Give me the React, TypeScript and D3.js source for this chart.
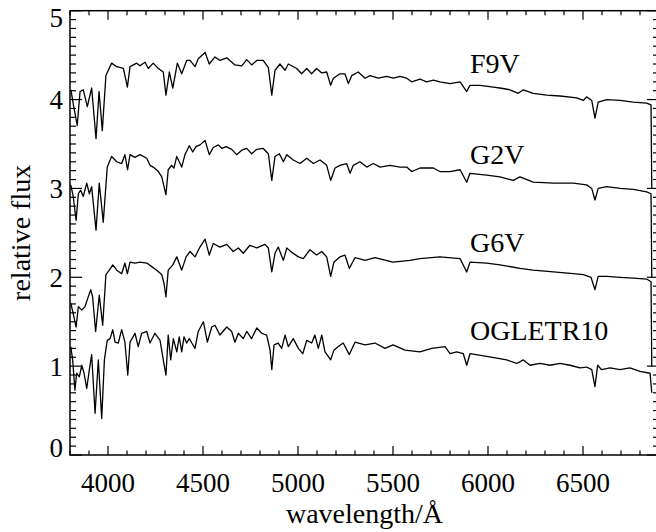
import * as d3 from "d3";

// spectra: wavelength (Å) and relative flux
const f9vWave = [3805, 3818, 3838, 3853, 3870, 3891, 3914, 3937, 3953, 3970, 3989, 4019, 4046, 4081, 4102, 4116, 4151, 4168, 4195, 4212, 4238, 4265, 4291, 4305, 4323, 4341, 4365, 4388, 4414, 4432, 4458, 4475, 4511, 4533, 4563, 4589, 4625, 4668, 4704, 4730, 4756, 4783, 4817, 4844, 4862, 4879, 4905, 4932, 4949, 4993, 5019, 5046, 5072, 5098, 5125, 5151, 5172, 5186, 5221, 5247, 5265, 5283, 5317, 5353, 5379, 5423, 5467, 5502, 5537, 5572, 5598, 5642, 5677, 5712, 5747, 5800, 5853, 5888, 5905, 5958, 6028, 6063, 6116, 6159, 6186, 6238, 6309, 6379, 6467, 6502, 6519, 6546, 6563, 6580, 6625, 6695, 6765, 6835, 6858, 6862];
const f9vFlux = [4.11, 3.94, 3.71, 4.09, 4.11, 3.92, 4.13, 3.56, 4.09, 3.65, 4.27, 4.41, 4.37, 4.35, 4.14, 4.37, 4.41, 4.38, 4.42, 4.35, 4.41, 4.35, 4.31, 4.05, 4.31, 4.13, 4.41, 4.29, 4.44, 4.44, 4.37, 4.46, 4.53, 4.40, 4.48, 4.44, 4.47, 4.39, 4.38, 4.45, 4.39, 4.44, 4.44, 4.36, 4.05, 4.33, 4.40, 4.33, 4.40, 4.35, 4.29, 4.35, 4.29, 4.35, 4.30, 4.31, 4.16, 4.24, 4.29, 4.29, 4.18, 4.27, 4.31, 4.24, 4.27, 4.24, 4.26, 4.24, 4.26, 4.24, 4.20, 4.23, 4.20, 4.22, 4.20, 4.18, 4.20, 4.09, 4.16, 4.16, 4.14, 4.13, 4.11, 4.07, 4.11, 4.07, 4.05, 4.04, 4.02, 3.99, 4.03, 3.99, 3.79, 3.97, 4.00, 3.99, 3.97, 3.96, 3.94, 3.0];

const g2vWave = [3804, 3817, 3832, 3844, 3856, 3870, 3888, 3902, 3914, 3937, 3954, 3975, 3996, 4019, 4046, 4072, 4089, 4103, 4116, 4142, 4168, 4204, 4221, 4238, 4265, 4283, 4295, 4305, 4317, 4335, 4347, 4362, 4375, 4388, 4405, 4428, 4446, 4463, 4484, 4511, 4533, 4554, 4581, 4600, 4621, 4651, 4677, 4704, 4730, 4756, 4783, 4817, 4844, 4862, 4879, 4902, 4923, 4941, 4975, 5011, 5046, 5081, 5116, 5151, 5172, 5195, 5221, 5256, 5274, 5291, 5326, 5362, 5396, 5432, 5484, 5537, 5572, 5598, 5642, 5712, 5747, 5800, 5853, 5888, 5905, 5993, 6063, 6133, 6168, 6238, 6344, 6449, 6519, 6546, 6563, 6580, 6625, 6695, 6765, 6835, 6858, 6862];
const g2vFlux = [3.04, 2.91, 2.64, 2.94, 2.98, 2.91, 3.06, 2.94, 3.02, 2.53, 3.06, 2.62, 3.24, 3.36, 3.30, 3.28, 3.38, 3.21, 3.38, 3.35, 3.38, 3.34, 3.26, 3.24, 3.19, 3.13, 3.02, 2.93, 3.21, 3.26, 3.23, 3.36, 3.30, 3.24, 3.38, 3.48, 3.41, 3.47, 3.49, 3.54, 3.38, 3.46, 3.49, 3.45, 3.47, 3.44, 3.38, 3.43, 3.45, 3.39, 3.44, 3.45, 3.39, 3.09, 3.36, 3.39, 3.30, 3.38, 3.32, 3.28, 3.34, 3.28, 3.32, 3.26, 3.09, 3.23, 3.26, 3.28, 3.17, 3.26, 3.30, 3.24, 3.28, 3.24, 3.26, 3.24, 3.24, 3.19, 3.23, 3.23, 3.19, 3.19, 3.21, 3.07, 3.17, 3.15, 3.13, 3.09, 3.13, 3.07, 3.06, 3.06, 3.04, 3.00, 2.87, 3.00, 3.02, 3.00, 2.99, 2.96, 2.94, 2.0];

const g6vWave = [3804, 3817, 3832, 3844, 3862, 3879, 3896, 3909, 3919, 3935, 3954, 3972, 3989, 4007, 4025, 4046, 4072, 4089, 4102, 4116, 4142, 4168, 4204, 4230, 4256, 4283, 4295, 4305, 4317, 4341, 4362, 4388, 4411, 4432, 4458, 4484, 4511, 4533, 4554, 4589, 4625, 4659, 4686, 4712, 4747, 4783, 4826, 4844, 4862, 4879, 4896, 4923, 4941, 4968, 5002, 5028, 5063, 5098, 5125, 5151, 5172, 5189, 5221, 5247, 5270, 5300, 5353, 5405, 5500, 5589, 5642, 5747, 5853, 5888, 5905, 5993, 6063, 6168, 6238, 6344, 6449, 6502, 6542, 6563, 6580, 6625, 6695, 6765, 6835, 6858, 6862];
const g6vFlux = [1.71, 1.59, 1.44, 1.67, 1.63, 1.67, 1.78, 1.86, 1.78, 1.39, 1.80, 1.46, 2.03, 2.08, 2.14, 2.08, 2.04, 2.16, 2.04, 2.17, 2.16, 2.17, 2.16, 2.12, 2.08, 2.03, 1.93, 1.78, 2.08, 2.14, 2.23, 2.08, 2.23, 2.29, 2.23, 2.34, 2.43, 2.25, 2.38, 2.34, 2.37, 2.29, 2.33, 2.27, 2.36, 2.33, 2.37, 2.33, 2.06, 2.27, 2.34, 2.19, 2.33, 2.28, 2.23, 2.21, 2.31, 2.25, 2.29, 2.23, 2.01, 2.17, 2.23, 2.25, 2.10, 2.22, 2.19, 2.22, 2.17, 2.19, 2.21, 2.23, 2.21, 2.06, 2.17, 2.16, 2.14, 2.10, 2.08, 2.06, 2.04, 2.03, 2.00, 1.86, 2.01, 2.01, 2.00, 1.99, 1.98, 1.95, 1.0];

const ogleWave = [3804, 3814, 3826, 3835, 3849, 3862, 3874, 3888, 3902, 3914, 3932, 3949, 3967, 3981, 3996, 4011, 4025, 4037, 4054, 4072, 4089, 4104, 4116, 4142, 4159, 4177, 4204, 4221, 4247, 4274, 4291, 4305, 4317, 4330, 4344, 4362, 4375, 4388, 4400, 4414, 4428, 4441, 4458, 4475, 4502, 4523, 4546, 4563, 4589, 4625, 4651, 4668, 4686, 4712, 4730, 4756, 4783, 4809, 4835, 4853, 4862, 4874, 4896, 4914, 4932, 4949, 4975, 5002, 5025, 5046, 5072, 5089, 5107, 5125, 5142, 5172, 5189, 5212, 5238, 5270, 5300, 5353, 5405, 5458, 5500, 5563, 5642, 5704, 5774, 5800, 5835, 5870, 5888, 5905, 5993, 6046, 6098, 6151, 6186, 6221, 6274, 6326, 6379, 6432, 6484, 6519, 6546, 6563, 6577, 6598, 6642, 6695, 6747, 6800, 6853, 6862];
const ogleFlux = [1.22, 1.07, 0.73, 0.92, 0.88, 1.01, 0.92, 0.75, 0.96, 1.13, 0.47, 1.07, 0.41, 1.07, 1.29, 1.31, 1.41, 1.27, 1.26, 1.41, 1.27, 0.90, 1.27, 1.37, 1.22, 1.37, 1.39, 1.26, 1.37, 1.29, 1.07, 0.90, 1.35, 1.07, 1.31, 1.16, 1.33, 1.16, 1.33, 1.26, 1.31, 1.26, 1.20, 1.39, 1.50, 1.27, 1.44, 1.46, 1.35, 1.44, 1.39, 1.27, 1.37, 1.31, 1.39, 1.31, 1.43, 1.37, 1.35, 1.18, 0.96, 1.24, 1.26, 1.20, 1.35, 1.22, 1.31, 1.20, 1.14, 1.29, 1.26, 1.35, 1.20, 1.35, 1.16, 1.07, 1.18, 1.22, 1.26, 1.13, 1.27, 1.24, 1.26, 1.20, 1.24, 1.18, 1.16, 1.20, 1.22, 1.14, 1.16, 1.14, 1.01, 1.14, 1.11, 1.09, 1.07, 1.03, 1.07, 1.01, 1.03, 1.01, 1.03, 1.01, 0.98, 0.99, 0.96, 0.77, 1.01, 0.96, 0.98, 0.96, 0.98, 0.94, 0.92, 0.70];

const starNames = ["F9V", "G2V", "G6V", "OGLETR10"];
const labelWave = 5905;
const labelFlux = [4.3, 3.28, 2.28, 1.29];

const xMajor = [4000, 4500, 5000, 5500, 6000, 6500];
const yMajor = [0, 1, 2, 3, 4, 5];

const W = 656;
const H = 532;
const PLOT = { left: 70, right: 659, top: 10.7, bottom: 455 };
const FONT = "'Liberation Serif', 'Times New Roman', serif";

export default function App() {
  const x = d3.scaleLinear().domain([3800, 6900]).range([PLOT.left, PLOT.right]);
  const y = d3.scaleLinear().domain([0, 5]).range([PLOT.bottom, PLOT.top]);

  const line = d3
    .line<[number, number]>()
    .x((d) => x(d[0]))
    .y((d) => y(d[1]));

  const spectra = [
    [f9vWave, f9vFlux],
    [g2vWave, g2vFlux],
    [g6vWave, g6vFlux],
    [ogleWave, ogleFlux],
  ].map(([w, f]) => w.map((v, i) => [v, f[i]] as [number, number]));

  // minor ticks every 100 Å and every 0.1
  const xMinor = d3.range(3800, 6901, 100).filter((v) => v % 500 !== 0);
  const yMinor = d3.range(0, 51).map((v) => v / 10).filter((v) => Math.round(v * 10) % 10 !== 0);

  const xLen = 9;
  const yLen = 12;

  return (
    <svg
      width={W}
      height={H}
      style={{ position: "absolute", left: 0, top: 0, background: "#fff" }}
      fontFamily={FONT}
    >
      {/* spectra */}
      {spectra.map((s, i) => (
        <path key={i} d={line(s) ?? ""} fill="none" stroke="#000" strokeWidth={1.3} strokeLinejoin="round" />
      ))}

      {/* frame */}
      <rect
        x={PLOT.left}
        y={PLOT.top}
        width={PLOT.right - PLOT.left}
        height={PLOT.bottom - PLOT.top}
        fill="none"
        stroke="#000"
        strokeWidth={1.5}
      />

      {/* x ticks, bottom and top */}
      <g stroke="#000" strokeWidth={1.2}>
        {xMajor.map((v) => (
          <g key={v}>
            <line x1={x(v)} x2={x(v)} y1={PLOT.bottom} y2={PLOT.bottom - xLen} />
            <line x1={x(v)} x2={x(v)} y1={PLOT.top} y2={PLOT.top + xLen} />
          </g>
        ))}
        {xMinor.map((v) => (
          <g key={v}>
            <line x1={x(v)} x2={x(v)} y1={PLOT.bottom} y2={PLOT.bottom - xLen / 2} />
            <line x1={x(v)} x2={x(v)} y1={PLOT.top} y2={PLOT.top + xLen / 2} />
          </g>
        ))}
        {yMajor.map((v) => (
          <g key={v}>
            <line x1={PLOT.left} x2={PLOT.left + yLen} y1={y(v)} y2={y(v)} />
            <line x1={PLOT.right} x2={PLOT.right - yLen} y1={y(v)} y2={y(v)} />
          </g>
        ))}
        {yMinor.map((v) => (
          <g key={v}>
            <line x1={PLOT.left} x2={PLOT.left + yLen / 2} y1={y(v)} y2={y(v)} />
            <line x1={PLOT.right} x2={PLOT.right - yLen / 2} y1={y(v)} y2={y(v)} />
          </g>
        ))}
      </g>

      {/* tick labels */}
      {xMajor.map((v) => (
        <text key={v} x={x(v)} y={492} textAnchor="middle" fontSize={27}>
          {v}
        </text>
      ))}
      {yMajor.map((v) => (
        <text
          key={v}
          x={63}
          y={Math.min(Math.max(y(v) + 9.6, 27.3), 456.5)}
          textAnchor="end"
          fontSize={27}
        >
          {v}
        </text>
      ))}

      {/* star labels */}
      {starNames.map((n, i) => (
        <text key={n} x={x(labelWave)} y={y(labelFlux[i])} fontSize={28}>
          {n}
        </text>
      ))}

      {/* axis titles */}
      <text x={(PLOT.left + PLOT.right) / 2} y={523} textAnchor="middle" fontSize={28}>
        wavelength/Å
      </text>
      <text
        transform={`translate(30,${(PLOT.top + PLOT.bottom) / 2}) rotate(-90)`}
        textAnchor="middle"
        fontSize={28}
      >
        relative flux
      </text>
    </svg>
  );
}
